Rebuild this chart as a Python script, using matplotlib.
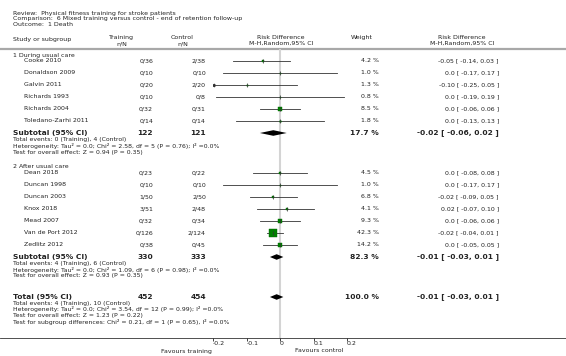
import matplotlib
matplotlib.use('agg')
import matplotlib.pyplot as plt

# data
g1_names = ['Cooke 2010', 'Donaldson 2009', 'Galvin 2011', 'Richards 1993', 'Richards 2004', 'Toledano-Zarhi 2011']
g1_train = ['0/36', '0/10', '0/20', '0/10', '0/32', '0/14']
g1_ctrl = ['2/38', '0/10', '2/20', '0/8', '0/31', '0/14']
g1_weight = [4.2, 1.0, 1.3, 0.8, 8.5, 1.8]
g1_rd = [-0.05, 0.0, -0.10, 0.0, 0.0, 0.0]
g1_lo = [-0.14, -0.17, -0.25, -0.19, -0.06, -0.13]
g1_hi = [0.03, 0.17, 0.05, 0.19, 0.06, 0.13]

g2_names = ['Dean 2018', 'Duncan 1998', 'Duncan 2003', 'Knox 2018', 'Mead 2007', 'Van de Port 2012', 'Zedlitz 2012']
g2_train = ['0/23', '0/10', '1/50', '3/51', '0/32', '0/126', '0/38']
g2_ctrl = ['0/22', '0/10', '2/50', '2/48', '0/34', '2/124', '0/45']
g2_weight = [4.5, 1.0, 6.8, 4.1, 9.3, 42.3, 14.2]
g2_rd = [0.0, 0.0, -0.02, 0.02, 0.0, -0.02, 0.0]
g2_lo = [-0.08, -0.17, -0.09, -0.07, -0.06, -0.04, -0.05]
g2_hi = [0.08, 0.17, 0.05, 0.10, 0.06, 0.01, 0.05]

# subtotal 1, subtotal 2, total
sum_train = [122, 330, 452]
sum_ctrl = [121, 333, 454]
sum_weight = [17.7, 82.3, 100.0]
sum_rd = [-0.02, -0.01, -0.01]
sum_lo = [-0.06, -0.03, -0.03]
sum_hi = [0.02, 0.01, 0.01]

g1_stats = ['Total events: 0 (Training), 4 (Control)',
            'Heterogeneity: Tau\u00b2 = 0.0; Chi\u00b2 = 2.58, df = 5 (P = 0.76); I\u00b2 =0.0%',
            'Test for overall effect: Z = 0.94 (P = 0.35)']
g2_stats = ['Total events: 4 (Training), 6 (Control)',
            'Heterogeneity: Tau\u00b2 = 0.0; Chi\u00b2 = 1.09, df = 6 (P = 0.98); I\u00b2 =0.0%',
            'Test for overall effect: Z = 0.93 (P = 0.35)']
tot_stats = ['Total events: 4 (Training), 10 (Control)',
             'Heterogeneity: Tau\u00b2 = 0.0; Chi\u00b2 = 3.54, df = 12 (P = 0.99); I\u00b2 =0.0%',
             'Test for overall effect: Z = 1.23 (P = 0.22)',
             'Test for subgroup differences: Chi\u00b2 = 0.21, df = 1 (P = 0.65), I\u00b2 =0.0%']

ticks = [-0.2, -0.1, 0, 0.1, 0.2]

W, H = 566, 356
TXT = '#222222'
fs = 4.5
fs_s = 4.4
fs_b = 5.4

fig = plt.figure(figsize=(W / 100, H / 100), dpi=100)
# page axes in pixel units
ax = fig.add_axes([0, 0, 1, 1])
ax.set_xlim(0, W)
ax.set_ylim(H, 0)
ax.axis('off')

# forest axes, y in the same pixel rows
top, bot = 49, 338
x0, x1 = 213, 347
fx = fig.add_axes([x0 / W, 1 - bot / H, (x1 - x0) / W, (bot - top) / H])
fx.set_xlim(-0.2, 0.2)
fx.set_ylim(bot, top)
fx.patch.set_alpha(0)
for s in ['top', 'left', 'right', 'bottom']:
    fx.spines[s].set_visible(False)
fx.set_yticks([])
fx.set_xticks(ticks)
fx.set_xticklabels(['-0.2', '-0.1', '0', '0.1', '0.2'])
fx.tick_params(axis='x', direction='out', length=1.8, width=0.6, pad=0.5,
               labelsize=fs, colors=TXT)
for lbl in fx.get_xticklabels():
    lbl.set_ha('left')
fx.axvline(0, color='#d4d4d4', lw=1.5, zorder=0)


def t(x, y, s, ha='left', size=fs, bold=False):
    ax.text(x, y, s, ha=ha, va='center', fontsize=size, color=TXT,
            fontweight='bold' if bold else 'normal', family='DejaVu Sans')


# header
t(13, 13, 'Review:  Physical fitness training for stroke patients')
t(13, 18.5, 'Comparison:  6 Mixed training versus control - end of retention follow-up')
t(13, 24, 'Outcome:  1 Death')
t(13, 39, 'Study or subgroup')
t(121, 37.5, 'Training', ha='center')
t(122, 43.5, 'n/N', ha='center')
t(182, 37.5, 'Control', ha='center')
t(183, 43.5, 'n/N', ha='center')
t(281, 37.5, 'Risk Difference', ha='center')
t(281, 43.5, 'M-H,Random,95% CI', ha='center')
t(362, 37.5, 'Weight', ha='center')
t(462, 37.5, 'Risk Difference', ha='center')
t(462, 43.5, 'M-H,Random,95% CI', ha='center')
ax.plot([0, W], [49, 49], color='#a8a8a8', lw=1.6)


def fmt(v):
    return '0.0' if v == 0 else '%.2f' % v


def study_rows(names, tr, ct, w, rd, lo, hi, y0):
    for i in range(len(names)):
        y = y0 + 12 * i
        t(24, y, names[i])
        t(153, y, tr[i], ha='right')
        t(206, y, ct[i], ha='right')
        t(379, y, '%.1f %%' % w[i], ha='right')
        t(499, y, '%s [ %s, %s ]' % (fmt(rd[i]), fmt(lo[i]), fmt(hi[i])), ha='right')
        a = max(lo[i], -0.2)
        b = min(hi[i], 0.2)
        fx.plot([a, b], [y, y], color='#333333', lw=0.6, zorder=2)
        if lo[i] < -0.2:
            fx.plot(-0.2, y, marker='<', ms=1.8, color='#333333', zorder=2)
        side = 1.12 * w[i] ** 0.5
        fx.plot(rd[i], y, marker='s', ms=side * 0.72, color='#008000', mec='#006400',
                mew=0.3, zorder=3)
        fx.plot(rd[i], y, marker='|', ms=2.2, mew=0.5, color='#333333', zorder=4)


def summary_row(k, label, y):
    t(13, y, label, size=fs_b, bold=True)
    t(153, y, str(sum_train[k]), ha='right', size=fs_b, bold=True)
    t(206, y, str(sum_ctrl[k]), ha='right', size=fs_b, bold=True)
    t(379, y, '%.1f %%' % sum_weight[k], ha='right', size=fs_b, bold=True)
    t(499, y, '%s [ %s, %s ]' % (fmt(sum_rd[k]), fmt(sum_lo[k]), fmt(sum_hi[k])),
      ha='right', size=fs_b, bold=True)
    fx.fill([sum_lo[k], sum_rd[k], sum_hi[k], sum_rd[k]], [y, y - 2.8, y, y + 2.8],
            color='black', zorder=3, lw=0)


def stats(lines, y0):
    for i, s in enumerate(lines):
        t(13, y0 + 6.2 * i, s, size=fs_s)


t(13, 55.5, '1 During usual care')
study_rows(g1_names, g1_train, g1_ctrl, g1_weight, g1_rd, g1_lo, g1_hi, 61)
summary_row(0, 'Subtotal (95% CI)', 133)
stats(g1_stats, 140)

t(13, 166.5, '2 After usual care')
study_rows(g2_names, g2_train, g2_ctrl, g2_weight, g2_rd, g2_lo, g2_hi, 173)
summary_row(1, 'Subtotal (95% CI)', 257)
stats(g2_stats, 263.5)

summary_row(2, 'Total (95% CI)', 297)
stats(tot_stats, 303)

# bottom axis line across the page
ax.plot([0, W], [bot, bot], color='#333333', lw=0.6)
t(212, 351, 'Favours training', ha='right')
t(295, 351, 'Favours control')

fig.savefig('out.png', dpi=100)
